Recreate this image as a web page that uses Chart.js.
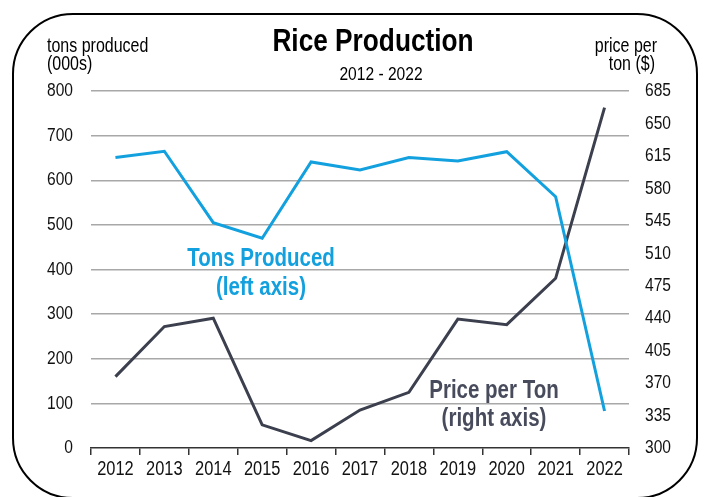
<!DOCTYPE html>
<html>
<head>
<meta charset="utf-8">
<script src="https://cdn.jsdelivr.net/npm/chart.js@4"></script>
<style>
  body { margin: 0; background: #fff; }
  #wrap { width: 708px; height: 497px; position: relative; }
</style>
</head>
<body>
<div id="wrap"><canvas id="riceChart"></canvas></div>
<script>
// chart data
const years = ["2012", "2013", "2014", "2015", "2016", "2017", "2018", "2019", "2020", "2021", "2022"]
const tonsProduced = [651, 665, 505, 470, 641, 623, 651, 643, 664, 563, 83]
const pricePerTon = [377, 431, 440, 325, 308, 341, 360, 439, 433, 483, 667]

const FONT = "'Liberation Sans', Arial, sans-serif"
const BLUE = "#12a0de"
const DARK = "#3c404e"
const NARROW = 0.82 // no Arial Narrow here, so squeeze the text by hand

Chart.defaults.font.family = FONT

function narrowText(ctx, text, x, y, align) {
  ctx.save()
  ctx.translate(x, y)
  ctx.scale(NARROW, 1)
  ctx.textAlign = align
  ctx.fillText(text, 0, 0)
  ctx.restore()
}

// frame, titles, tick labels and the in-chart labels
const decorations = {
  id: "decorations",
  afterDraw(chart) {
    const ctx = chart.ctx
    const { x, y, y1 } = chart.scales
    ctx.save()
    ctx.strokeStyle = "#000"
    ctx.lineWidth = 2
    ctx.beginPath()
    ctx.roundRect(13, 14, 684, 484, 60)
    ctx.stroke()

    ctx.fillStyle = "#000"
    ctx.textBaseline = "alphabetic"
    ctx.font = "bold 32px " + FONT
    narrowText(ctx, "Rice Production", 373, 51, "center")
    ctx.font = "19px " + FONT
    narrowText(ctx, "2012 - 2022", 381, 80, "center")

    ctx.font = "19.5px " + FONT
    narrowText(ctx, "tons produced", 47, 52, "left")
    narrowText(ctx, "(000s)", 47, 70, "left")
    narrowText(ctx, "price per", 657, 52, "right")
    narrowText(ctx, "ton ($)", 655, 70, "right")

    // tick labels
    ctx.fillStyle = "#111"
    ctx.textBaseline = "middle"
    ctx.font = "19px " + FONT
    y.ticks.forEach(t => narrowText(ctx, String(t.value), 73, y.getPixelForValue(t.value), "right"))
    y1.ticks.forEach(t => narrowText(ctx, String(t.value), 645, y1.getPixelForValue(t.value), "left"))
    ctx.font = "20px " + FONT
    x.ticks.forEach((t, i) => narrowText(ctx, x.getLabelForValue(t.value), x.getPixelForTick(i), 469, "center"))

    ctx.textBaseline = "alphabetic"
    ctx.font = "bold 25px " + FONT
    ctx.fillStyle = BLUE
    narrowText(ctx, "Tons Produced", 261, 266, "center")
    narrowText(ctx, "(left axis)", 261, 295, "center")
    ctx.fillStyle = "#474b5b"
    narrowText(ctx, "Price per Ton", 494, 398, "center")
    narrowText(ctx, "(right axis)", 494, 426, "center")
    ctx.restore()
  }
}

new Chart(document.getElementById("riceChart"), {
  type: "line",
  data: {
    labels: years,
    datasets: [
      {
        label: "Tons Produced",
        data: tonsProduced,
        borderColor: BLUE,
        borderWidth: 3,
        pointRadius: 0,
        tension: 0,
        yAxisID: "y"
      },
      {
        label: "Price per Ton",
        data: pricePerTon,
        borderColor: DARK,
        borderWidth: 3,
        pointRadius: 0,
        tension: 0,
        yAxisID: "y1"
      }
    ]
  },
  options: {
    responsive: true,
    maintainAspectRatio: false,
    animation: false,
    layout: { padding: { top: 91, left: 0, right: 0, bottom: 0 } },
    plugins: {
      legend: { display: false },
      tooltip: { enabled: false }
    },
    scales: {
      x: {
        offset: true,
        grid: { offset: true, drawOnChartArea: false, drawTicks: true, tickLength: 7, color: "#333", lineWidth: 1.5 },
        border: { display: true, color: "#333", width: 1.5 },
        ticks: { display: false },
        afterFit: s => { s.height = 49 }
      },
      y: {
        position: "left",
        min: 0,
        max: 800,
        ticks: { stepSize: 100, display: false },
        grid: { drawTicks: false, color: ctx => ctx.tick.value === 0 ? "rgba(0,0,0,0)" : "#a8a8a8", lineWidth: 1.5 },
        border: { display: false },
        afterFit: s => { s.width = 91 }
      },
      y1: {
        position: "right",
        min: 300,
        max: 685,
        ticks: { stepSize: 35, display: false },
        grid: { display: false, drawTicks: false },
        border: { display: false },
        afterFit: s => { s.width = 79 }
      }
    }
  },
  plugins: [decorations]
})
</script>
</body>
</html>
